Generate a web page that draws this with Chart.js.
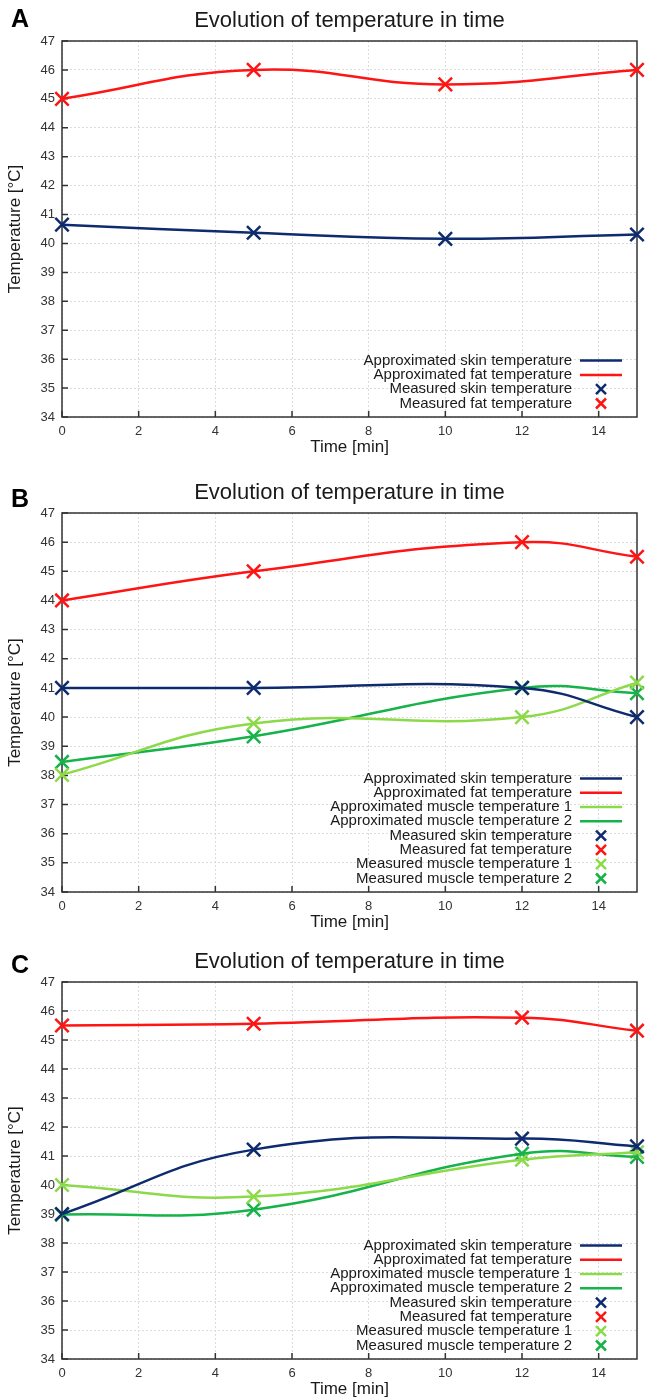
<!DOCTYPE html>
<html>
<head>
<meta charset="utf-8">
<script src="https://cdn.jsdelivr.net/npm/chart.js@4.4.1/dist/chart.umd.min.js"></script>
<style>
body{margin:0;background:#fff;width:645px;height:1399px;position:relative;overflow:hidden;font-family:"Liberation Sans",Arial,sans-serif;}
.panel{position:absolute;left:0;width:645px;}
.tag{position:absolute;left:11px;font-weight:bold;font-size:25px;line-height:25px;color:#000;}
</style>
</head>
<body>
<div class="panel" style="top:0"><canvas id="chartA" width="645" height="457"></canvas></div>
<div class="panel" style="top:472px"><canvas id="chartB" width="645" height="460"></canvas></div>
<div class="panel" style="top:941px"><canvas id="chartC" width="645" height="458"></canvas></div>
<div class="tag" style="top:6px">A</div>
<div class="tag" style="top:486px">B</div>
<div class="tag" style="top:952px">C</div>
<script>
const timesA = [0, 5, 10, 15];
const skinA = [40.65, 40.37, 40.16, 40.31];
const fatA = [45.0, 46.0, 45.5, 46.0];

const timesB = [0, 5, 12, 15];
const skinB = [41.0, 41.0, 41.0, 40.0];
const fatB = [44.0, 45.0, 46.0, 45.5];
const muscle1B = [38.02, 39.78, 40.0, 41.18];
const muscle2B = [38.46, 39.34, 41.0, 40.82];

const timesC = [0, 5, 12, 15];
const skinC = [39.0, 41.22, 41.6, 41.33];
const fatC = [45.5, 45.56, 45.77, 45.32];
const muscle1C = [40.0, 39.6, 40.87, 41.13];
const muscle2C = [38.98, 39.15, 41.08, 40.97];

const approxLabels = ['Approximated skin temperature', 'Approximated fat temperature', 'Approximated muscle temperature 1', 'Approximated muscle temperature 2'];
const measuredLabels = ['Measured skin temperature', 'Measured fat temperature', 'Measured muscle temperature 1', 'Measured muscle temperature 2'];
const seriesColors = ['#0d2b6e', '#ff1414', '#8cd94a', '#16b24a'];

const xTicks = [0, 2, 4, 6, 8, 10, 12, 14];
const xMin = 0, xMax = 15;
const yMin = 34, yMax = 47;

const FONT = '"Liberation Sans", Arial, sans-serif';

// frame box + inward tick marks like gnuplot
const framePlugin = {
  id: 'frame',
  beforeDatasetsDraw(chart){
    const {ctx, chartArea: a, scales} = chart;
    ctx.save();
    ctx.strokeStyle = '#333';
    ctx.lineWidth = 1.5;
    ctx.beginPath();
    scales.y.ticks.forEach(t => {
      const y = scales.y.getPixelForValue(t.value);
      ctx.moveTo(a.left, y); ctx.lineTo(a.left + 6, y);
    });
    scales.x.ticks.forEach(t => {
      const x = scales.x.getPixelForValue(t.value);
      ctx.moveTo(x, a.bottom); ctx.lineTo(x, a.bottom - 6);
    });
    ctx.stroke();
    ctx.strokeRect(a.left, a.top, a.right - a.left, a.bottom - a.top);
    ctx.restore();
  }
};

// key in the lower right corner, text right-aligned, sample on the right
const keyPlugin = {
  id: 'key',
  afterDatasetsDraw(chart){
    const {ctx, chartArea: a} = chart;
    const sets = chart.data.datasets;
    const n = sets.length;
    ctx.save();
    ctx.font = '15px ' + FONT;
    ctx.textAlign = 'right';
    ctx.textBaseline = 'middle';
    sets.forEach((ds, i) => {
      const y = a.bottom - 13.5 - (n - 1 - i) * 14.3;
      ctx.fillStyle = '#1a1a1a';
      ctx.fillText(ds.label, a.right - 65, y);
      ctx.strokeStyle = ds.borderColor;
      ctx.lineWidth = 2.5;
      ctx.beginPath();
      if(ds.showLine){
        ctx.moveTo(a.right - 57, y); ctx.lineTo(a.right - 15, y);
      }else{
        const cx = a.right - 36, r = 5;
        ctx.moveTo(cx - r, y - r); ctx.lineTo(cx + r, y + r);
        ctx.moveTo(cx - r, y + r); ctx.lineTo(cx + r, y - r);
      }
      ctx.stroke();
    });
    ctx.restore();
  }
};

function makeChart(id, times, series){
  const pts = vals => times.map((t, i) => ({x: t, y: vals[i]}));
  const lines = series.map((vals, i) => ({
    label: approxLabels[i],
    data: pts(vals),
    showLine: true,
    borderColor: seriesColors[i],
    backgroundColor: seriesColors[i],
    borderWidth: 2.5,
    pointRadius: 0,
    tension: 0.45
  }));
  const marks = series.map((vals, i) => ({
    label: measuredLabels[i],
    data: pts(vals),
    showLine: false,
    borderColor: seriesColors[i],
    backgroundColor: seriesColors[i],
    pointStyle: 'crossRot',
    pointRadius: 9.5,
    pointBorderWidth: 2.5,
    clip: false
  }));
  return new Chart(document.getElementById(id), {
    type: 'scatter',
    data: { datasets: lines.concat(marks) },
    plugins: [framePlugin, keyPlugin],
    options: {
      responsive: false,
      animation: false,
      events: [],
      layout: { autoPadding: false, padding: { left: 0, right: 8, top: 0, bottom: 0 } },
      plugins: {
        legend: { display: false },
        tooltip: { enabled: false },
        title: {
          display: true,
          fullSize: false,
          text: 'Evolution of temperature in time',
          color: '#1a1a1a',
          font: { size: 22, family: FONT, weight: 'normal', lineHeight: 1.2 },
          padding: { top: 7.5, bottom: 7.1 }
        }
      },
      scales: {
        x: {
          type: 'linear', min: xMin, max: xMax,
          afterBuildTicks: s => { s.ticks = xTicks.map(v => ({value: v})); },
          afterFit: s => { s.height = 40; s.paddingLeft = 0; s.paddingRight = 0; },
          grid: { color: '#dcdcdc', drawTicks: false },
          border: { display: false, dash: [2, 2] },
          ticks: { padding: 7, color: '#333', font: { size: 13, family: FONT } },
          title: { display: true, text: 'Time [min]', color: '#1a1a1a', font: { size: 17, family: FONT, lineHeight: 1 }, padding: { top: 0, bottom: 1 } }
        },
        y: {
          min: yMin, max: yMax,
          afterFit: s => { s.width = 62; },
          grid: { color: '#dcdcdc', drawTicks: false },
          border: { display: false, dash: [2, 2] },
          ticks: { stepSize: 1, padding: 7, color: '#333', font: { size: 13, family: FONT } },
          title: { display: true, text: 'Temperature [°C]', color: '#1a1a1a', font: { size: 17, family: FONT, lineHeight: 1 }, padding: { top: 6.5, bottom: 0 } }
        }
      }
    }
  });
}

makeChart('chartA', timesA, [skinA, fatA]);
makeChart('chartB', timesB, [skinB, fatB, muscle1B, muscle2B]);
makeChart('chartC', timesC, [skinC, fatC, muscle1C, muscle2C]);
</script>
</body>
</html>
